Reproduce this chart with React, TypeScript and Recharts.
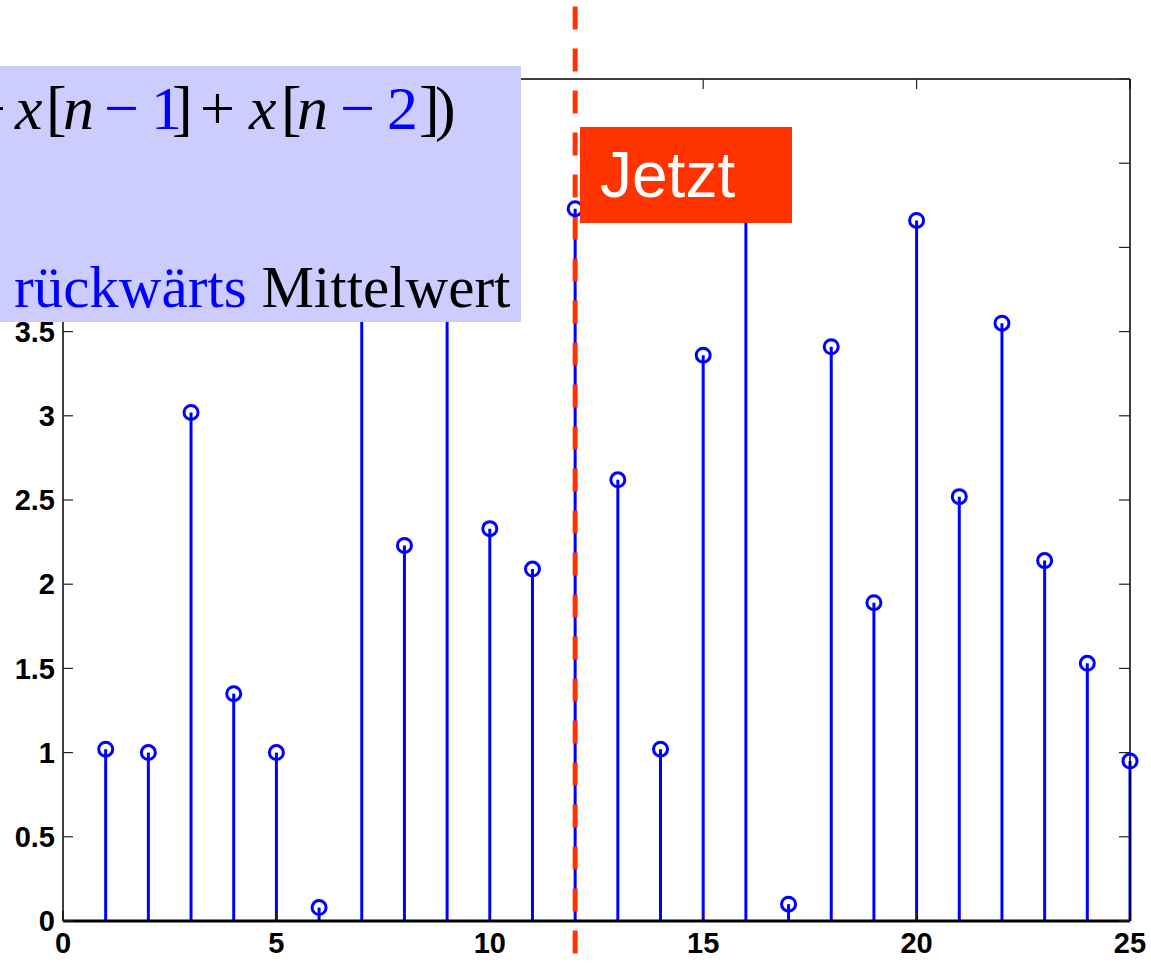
import React from 'react';
import { ComposedChart, Line, XAxis, YAxis, ReferenceLine } from 'recharts';

// samples n = 1..25 and their values
const sampleIndex = [1, 2, 3, 4, 5, 6, 7, 8, 9, 10, 11, 12, 13, 14, 15, 16, 17, 18, 19, 20, 21, 22, 23, 24, 25];
const stemValues = [
  1.02, 1.0, 3.02, 1.35, 1.0, 0.08, 4.6, 2.23, 4.4, 2.33, 2.09, 4.23, 2.62,
  1.02, 3.36, 4.2, 0.1, 3.41, 1.89, 4.16, 2.52, 3.55, 2.14, 1.53, 0.95,
];
const xTicks = [0, 5, 10, 15, 20, 25];
const yTicks = [0, 0.5, 1, 1.5, 2, 2.5, 3, 3.5, 4, 4.5, 5];

// "Jetzt" marker: sample index and the value span the dashed line covers (runs past the axes)
const nowIndex = 12;
const nowSpan = [5.43, -0.25];

const BLUE = '#0000ff';
const RED = '#ff3300';
const LAVENDER = '#ccccff';
const SANS = '"Liberation Sans", Arial, Helvetica, sans-serif';
const SERIF = '"Liberation Serif", "Times New Roman", Times, serif';

const data = sampleIndex.map((n, i) => ({ n, v: stemValues[i] }));

const tickFont = { fontFamily: SANS, fontWeight: 'bold', fontSize: 29, fill: '#000' };
const tickStroke = { stroke: '#222', strokeWidth: 1.2 };

function StemHead(props: any) {
  const { cx, cy, index } = props;
  if (cx == null || cy == null) return <g key={index} />;
  return <circle key={index} cx={cx} cy={cy} r={7} fill="none" stroke={BLUE} strokeWidth={3} />;
}

function Overlay() {
  return (
    <svg
      width={1151}
      height={963}
      style={{ position: 'absolute', left: 0, top: 0, pointerEvents: 'none' }}
    >
      <rect x={0} y={66} width={521} height={256} fill={LAVENDER} />
      <text y={129} fontFamily={SERIF} fontSize={62} fill="#000">
        <tspan x={-29}>+</tspan>
        <tspan x={15} fontStyle="italic">x</tspan>
        <tspan x={46}>[</tspan>
        <tspan x={63} fontStyle="italic">n</tspan>
        <tspan x={104} fill={BLUE}>−</tspan>
        <tspan x={151} fill={BLUE}>1</tspan>
        <tspan x={172}>]</tspan>
        <tspan x={200}>+</tspan>
        <tspan x={249} fontStyle="italic">x</tspan>
        <tspan x={281}>[</tspan>
        <tspan x={297} fontStyle="italic">n</tspan>
        <tspan x={340} fill={BLUE}>−</tspan>
        <tspan x={387} fill={BLUE}>2</tspan>
        <tspan x={419}>]</tspan>
        <tspan x={435}>)</tspan>
      </text>
      <text x={14} y={307} fontFamily={SERIF} fontSize={59}>
        <tspan fill={BLUE}>rückwärts</tspan>
        <tspan fill="#000">{' Mittelwert'}</tspan>
      </text>
      <rect x={580} y={127} width={212} height={96} fill={RED} />
      <text x={600} y={197} fontFamily={SANS} fontSize={64} fill="#fff">
        Jetzt
      </text>
    </svg>
  );
}

export default function App() {
  return (
    <div style={{ position: 'absolute', left: 0, top: 0, width: 1151, height: 963, background: '#fff' }}>
      <ComposedChart
        width={1151}
        height={963}
        data={data}
        margin={{ top: 78, right: 20, bottom: 0, left: 0 }}
      >
        <XAxis
          dataKey="n"
          type="number"
          domain={[0, 25]}
          ticks={xTicks}
          height={42}
          tickSize={-10}
          tickMargin={21}
          tickLine={tickStroke}
          axisLine={{ stroke: '#000', strokeWidth: 3 }}
          tick={tickFont}
        />
        <XAxis
          xAxisId="top"
          dataKey="n"
          orientation="top"
          type="number"
          domain={[0, 25]}
          ticks={xTicks}
          height={1}
          tickSize={-10}
          tickFormatter={() => ''}
          tickLine={tickStroke}
          axisLine={{ stroke: '#000', strokeWidth: 1.5 }}
        />
        <YAxis
          type="number"
          domain={[0, 5]}
          ticks={yTicks}
          width={63}
          tickSize={-10}
          tickMargin={18}
          tickLine={tickStroke}
          axisLine={{ stroke: '#000', strokeWidth: 1.5 }}
          tick={tickFont}
        />
        <YAxis
          yAxisId="right"
          orientation="right"
          type="number"
          domain={[0, 5]}
          ticks={yTicks}
          width={1}
          tickSize={-11}
          tickFormatter={() => ''}
          tickLine={tickStroke}
          axisLine={{ stroke: '#000', strokeWidth: 1.5 }}
        />
        {data.map(d => (
          <ReferenceLine
            key={'stem' + d.n}
            segment={[{ x: d.n, y: 0 }, { x: d.n, y: d.v }]}
            stroke={BLUE}
            strokeWidth={3}
          />
        ))}
        <Line
          dataKey="v"
          stroke="none"
          strokeWidth={0}
          dot={StemHead}
          activeDot={false}
          isAnimationActive={false}
        />
        {/* invisible series so the box axes (top / right) get drawn */}
        <Line
          xAxisId="top"
          yAxisId="right"
          dataKey="v"
          stroke="none"
          strokeWidth={0}
          dot={false}
          activeDot={false}
          isAnimationActive={false}
        />
        <ReferenceLine
          segment={[{ x: nowIndex, y: nowSpan[0] }, { x: nowIndex, y: nowSpan[1] }]}
          ifOverflow="visible"
          stroke={RED}
          strokeWidth={5}
          strokeDasharray="23 19"
        />
      </ComposedChart>
      <Overlay />
    </div>
  );
}
